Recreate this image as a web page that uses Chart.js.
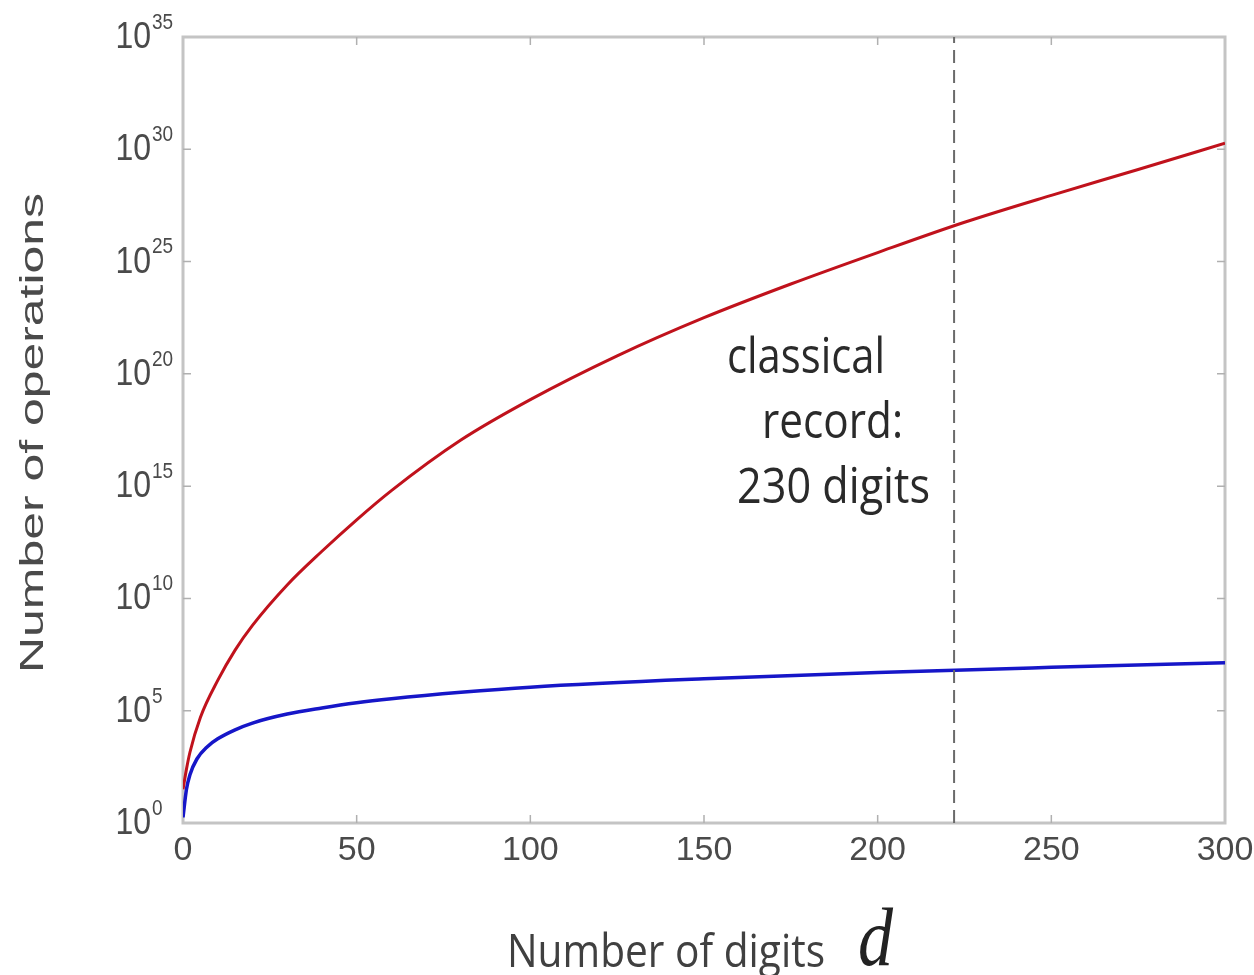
<!DOCTYPE html>
<html>
<head>
<meta charset="utf-8">
<script src="https://cdn.jsdelivr.net/npm/chart.js@4.4.1/dist/chart.umd.min.js"></script>
<style>
  html, body { margin: 0; padding: 0; background: #fff; }
  #wrap { width: 1254px; height: 975px; position: relative; }
</style>
</head>
<body>
<div id="wrap"><canvas id="chart"></canvas></div>
<script>
// digits d and log10(number of operations)
const classicalDigits = [0, 1, 2, 5, 10, 15, 20, 30, 40, 50, 60, 80, 100, 125, 150, 175, 200, 225, 250, 275, 300];
const classicalExp    = [1.5, 2.4, 3.15, 4.7, 6.35, 7.7, 8.8, 10.6, 12.1, 13.5, 14.8, 17.05, 18.85, 20.8, 22.5, 24.0, 25.4, 26.75, 27.95, 29.1, 30.27];

const quantumDigits = [0, 1, 2, 4, 7, 10, 15, 20, 30, 40, 50, 60, 80, 100, 150, 200, 250, 300];
const quantumExp    = [0.25, 1.5, 2.15, 2.85, 3.4, 3.75, 4.15, 4.45, 4.85, 5.12, 5.35, 5.53, 5.82, 6.05, 6.42, 6.7, 6.93, 7.14];

const recordDigits = 222;
const recordLines = ['classical', 'record:', '230 digits'];

const xTicks = [0, 50, 100, 150, 200, 250, 300];
const yTickExponents = [0, 5, 10, 15, 20, 25, 30, 35];

const toPoints = (xs, es) => xs.map((x, i) => ({ x: x, y: Math.pow(10, es[i]) }));

// draws a text with optional stretch to a target width and vertical scale
function stretchText(ctx, str, x, y, font, opts) {
    ctx.save();
    ctx.font = font;
    ctx.translate(x, y);
    if (opts.rotate) ctx.rotate(opts.rotate);
    const sx = opts.width ? opts.width / ctx.measureText(str).width : 1;
    ctx.scale(sx, opts.sy || 1);
    ctx.textAlign = opts.align || 'left';
    ctx.textBaseline = opts.baseline || 'alphabetic';
    ctx.fillStyle = opts.color || '#333';
    ctx.fillText(str, 0, 0);
    ctx.restore();
}

const framePlugin = {
    id: 'frame',
    beforeDatasetsDraw(chart) {
        const { ctx, chartArea: a, scales } = chart;
        ctx.save();
        ctx.strokeStyle = '#c4c4c4';
        ctx.lineWidth = 3;
        ctx.strokeRect(a.left, a.top, a.right - a.left, a.bottom - a.top);
        // inward tick marks on all four sides
        ctx.strokeStyle = '#b0b0b0';
        ctx.lineWidth = 1.5;
        ctx.beginPath();
        scales.x.ticks.forEach(t => {
            if (t.value <= scales.x.min || t.value >= scales.x.max) return;
            const px = scales.x.getPixelForValue(t.value);
            ctx.moveTo(px, a.bottom); ctx.lineTo(px, a.bottom - 8);
            ctx.moveTo(px, a.top); ctx.lineTo(px, a.top + 8);
        });
        scales.y.ticks.forEach(t => {
            if (t.value <= scales.y.min || t.value >= scales.y.max) return;
            const py = scales.y.getPixelForValue(t.value);
            ctx.moveTo(a.left, py); ctx.lineTo(a.left + 8, py);
            ctx.moveTo(a.right, py); ctx.lineTo(a.right - 8, py);
        });
        ctx.stroke();
        ctx.restore();
    },
    afterDraw(chart) {
        const { ctx, scales } = chart;
        // y tick labels 10^n
        scales.y.ticks.forEach(t => {
            const py = scales.y.getPixelForValue(t.value);
            const e = Math.round(Math.log10(t.value));
            stretchText(ctx, '10', 151, py + 1, '32px "Liberation Sans"', { align: 'right', baseline: 'middle', sy: 1.13, color: '#4a4a4a' });
            stretchText(ctx, String(e), 152, py - 14, '19px "Liberation Sans"', { align: 'left', baseline: 'middle', sy: 1.13, color: '#4a4a4a' });
        });
        // axis titles
        stretchText(ctx, 'Number of operations', 34, 433, '33px "Liberation Sans"', { rotate: -Math.PI / 2, align: 'center', baseline: 'middle', width: 480, color: '#4a4a4a' });
        stretchText(ctx, 'Number of digits', 507, 967, '40px "Open Sans"', { width: 318, sy: 1.15, color: '#404040' });
        stretchText(ctx, 'd', 858, 965, 'italic 70px "Liberation Serif"', { sy: 1.18, color: '#222' });
        // annotation next to the record line
        stretchText(ctx, recordLines[0], 727, 373, '41px "Open Sans"', { width: 158, sy: 1.2, color: '#2a2a2a' });
        stretchText(ctx, recordLines[1], 762, 438, '41px "Open Sans"', { width: 141, sy: 1.2, color: '#2a2a2a' });
        stretchText(ctx, recordLines[2], 737, 503, '41px "Open Sans"', { width: 193, sy: 1.2, color: '#2a2a2a' });
    }
};

new Chart(document.getElementById('chart'), {
    type: 'line',
    data: {
        datasets: [
            {
                label: 'record',
                data: [{ x: recordDigits, y: 1 }, { x: recordDigits, y: 1e35 }],
                borderColor: '#6a6a6a',
                borderWidth: 2,
                borderDash: [13, 7],
                pointRadius: 0
            },
            {
                label: 'classical',
                data: toPoints(classicalDigits, classicalExp),
                borderColor: '#c0121c',
                borderWidth: 3,
                pointRadius: 0,
                cubicInterpolationMode: 'monotone'
            },
            {
                label: 'quantum',
                data: toPoints(quantumDigits, quantumExp),
                borderColor: '#1616c8',
                borderWidth: 3.5,
                pointRadius: 0,
                cubicInterpolationMode: 'monotone'
            }
        ]
    },
    options: {
        responsive: true,
        maintainAspectRatio: false,
        animation: false,
        layout: { padding: { left: 183, top: 37, right: 29, bottom: 96 } },
        plugins: { legend: { display: false }, tooltip: { enabled: false } },
        scales: {
            x: {
                type: 'linear',
                min: 0,
                max: 300,
                afterBuildTicks: scale => { scale.ticks = xTicks.map(v => ({ value: v })); },
                // the last label may run past the plot edge, as in the picture
                afterFit: scale => { scale.paddingLeft = 0; scale.paddingRight = 0; },
                grid: { display: false, drawTicks: false },
                border: { display: false },
                ticks: {
                    padding: 11,
                    color: '#4a4a4a',
                    font: { family: '"Liberation Sans"', size: 34, lineHeight: 1 }
                }
            },
            y: {
                type: 'logarithmic',
                min: 1,
                max: 1e35,
                afterBuildTicks: scale => { scale.ticks = yTickExponents.map(e => ({ value: Math.pow(10, e) })); },
                grid: { display: false, drawTicks: false },
                border: { display: false },
                ticks: { display: false }
            }
        }
    },
    plugins: [framePlugin]
});
</script>
</body>
</html>
